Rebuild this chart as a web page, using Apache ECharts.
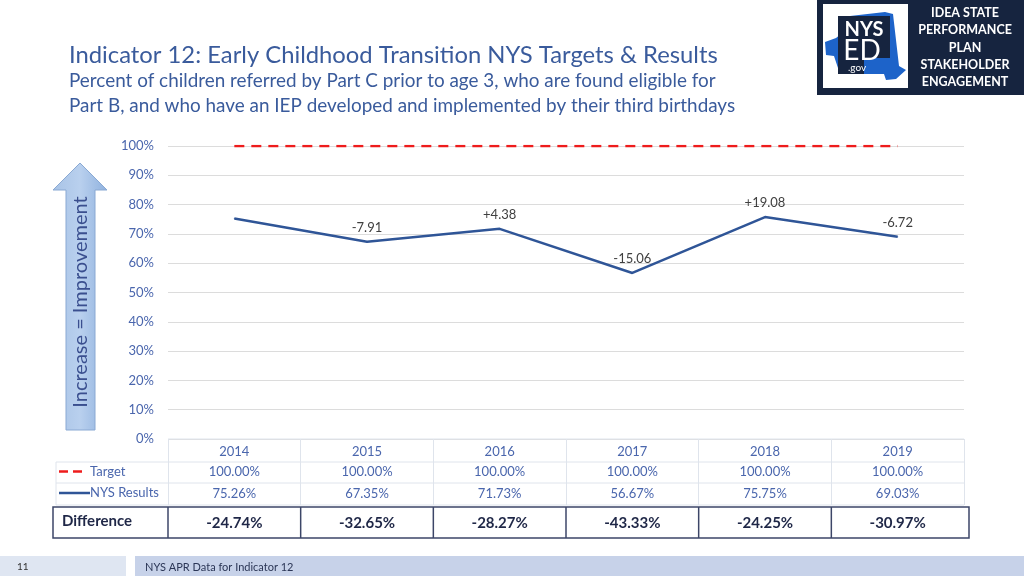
<!DOCTYPE html>
<html><head><meta charset="utf-8">
<script src="https://cdn.jsdelivr.net/npm/echarts@6/dist/echarts.min.js"></script>
<style>html,body{margin:0;padding:0;background:#fff}#c{width:1024px;height:576px}</style>
</head><body><div id="c"></div>
<script>
var years = ['2014','2015','2016','2017','2018','2019'];
var target = [100, 100, 100, 100, 100, 100];
var nysResults = [75.26, 67.35, 71.73, 56.67, 75.75, 69.03];
var changeLabels = ['', '-7.91', '+4.38', '-15.06', '+19.08', '-6.72'];
var differences = ['-24.74%', '-32.65%', '-28.27%', '-43.33%', '-24.25%', '-30.97%'];

var FONT = 'Lato, "Open Sans", sans-serif';
var BLUE_TXT = '#4a66ad';
var chart = echarts.init(document.getElementById('c'), null, {renderer: 'canvas'});

chart.setOption({
  animation: false,
  textStyle: {fontFamily: FONT},
  title: [{
    text: 'Indicator 12: Early Childhood Transition NYS Targets & Results',
    left: 64, top: 38,
    textStyle: {fontSize: 23.8, fontWeight: 'normal', color: '#3a5b9c', fontFamily: FONT}
  }, {
    text: 'Percent of children referred by Part C prior to age 3, who are found eligible for\nPart B, and who have an IEP developed and implemented by their third birthdays',
    left: 64, top: 63.5,
    textStyle: {fontSize: 18.9, fontWeight: 'normal', color: '#3a5b9c', lineHeight: 25, fontFamily: FONT}
  }],
  grid: {left: 168, right: 60, top: 146, bottom: 137},
  xAxis: {
    type: 'category', data: years, boundaryGap: true,
    axisLine: {show: false},
    axisTick: {show: true, length: 66, lineStyle: {color: '#dfe4ec'}},
    axisLabel: {margin: 6, color: BLUE_TXT, fontSize: 13, fontFamily: FONT}
  },
  yAxis: {
    type: 'value', min: 0, max: 100, interval: 10,
    axisLine: {show: false}, axisTick: {show: false},
    axisLabel: {formatter: '{value}%', color: BLUE_TXT, fontSize: 13, margin: 14, fontFamily: FONT},
    splitLine: {lineStyle: {color: '#dcdcdc', width: 1}}
  },
  series: [{
    name: 'Target', type: 'line', data: target, symbol: 'none',
    lineStyle: {color: '#ee1c1c', width: 2.5, type: [10, 7]}, z: 3
  }, {
    name: 'NYS Results', type: 'line', data: nysResults,
    symbol: 'circle', symbolSize: 1, showSymbol: true,
    itemStyle: {color: '#2f5597'},
    lineStyle: {color: '#2f5597', width: 2.5},
    label: {
      show: true, position: 'top', distance: 7,
      formatter: function (p) { return changeLabels[p.dataIndex]; },
      color: '#404040', fontSize: 13, fontFamily: FONT
    }
  }]
});

// build table + decorations from the axis scale
var cx = years.map(function (y) { return chart.convertToPixel({xAxisIndex: 0}, y); });
var bw = cx[1] - cx[0];
var left = cx[0] - bw / 2, right = cx[cx.length - 1] + bw / 2;
var g = [];
var rowT = 462, rowN = 483, rowE = 505;
[rowT, rowN, rowE].forEach(function (y) {
  g.push({type: 'line', shape: {x1: 56, y1: y, x2: right, y2: y}, style: {stroke: '#dfe4ec', lineWidth: 1}});
});
g.push({type: 'line', shape: {x1: 56, y1: rowT, x2: 56, y2: rowE}, style: {stroke: '#dfe4ec', lineWidth: 1}});
g.push({type: 'line', shape: {x1: left, y1: 439, x2: right, y2: 439}, style: {stroke: '#dfe4ec', lineWidth: 1}});
// legend keys
g.push({type: 'line', shape: {x1: 59, y1: 471.5, x2: 86, y2: 471.5}, style: {stroke: '#ee1c1c', lineWidth: 2.5, lineDash: [9, 5]}});
g.push({type: 'line', shape: {x1: 59, y1: 493, x2: 90, y2: 493}, style: {stroke: '#2f5597', lineWidth: 2.5}});
g.push({type: 'text', x: 90, y: 472, style: {text: 'Target', fill: BLUE_TXT, font: '13px ' + FONT, textVerticalAlign: 'middle'}});
g.push({type: 'text', x: 90, y: 493, style: {text: 'NYS Results', fill: BLUE_TXT, font: '13px ' + FONT, textVerticalAlign: 'middle'}});
cx.forEach(function (x, i) {
  g.push({type: 'text', x: x, y: 472, style: {text: target[i].toFixed(2) + '%', fill: BLUE_TXT, font: '13px ' + FONT, textAlign: 'center', textVerticalAlign: 'middle'}});
  g.push({type: 'text', x: x, y: 494, style: {text: nysResults[i].toFixed(2) + '%', fill: BLUE_TXT, font: '13px ' + FONT, textAlign: 'center', textVerticalAlign: 'middle'}});
  g.push({type: 'text', x: x, y: 523, style: {text: differences[i], fill: '#1f2747', font: 'bold 15px ' + FONT, textAlign: 'center', textVerticalAlign: 'middle'}});
});
g.push({type: 'rect', shape: {x: 53, y: 507, width: right + 5 - 53, height: 31}, style: {fill: 'none', stroke: '#3c4668', lineWidth: 1.5}});
for (var i = 0; i < cx.length; i++) {
  var bx = cx[i] - bw / 2;
  g.push({type: 'line', shape: {x1: bx, y1: 507, x2: bx, y2: 538}, style: {stroke: '#3c4668', lineWidth: 1.5}});
}
g.push({type: 'text', x: 62, y: 521, style: {text: 'Difference', fill: '#1f2747', font: 'bold 15px ' + FONT, textVerticalAlign: 'middle'}});

// arrow
g.push({type: 'polygon', shape: {points: [[80, 163], [107, 190], [95, 190], [95, 430], [66, 430], [66, 190], [53, 190]]},
  style: {fill: new echarts.graphic.LinearGradient(0, 0, 1, 0, [{offset: 0, color: '#a8c3e6'}, {offset: 0.5, color: '#b9d0ee'}, {offset: 1, color: '#8fb1de'}]), stroke: '#8aa9d3', lineWidth: 1}});
g.push({type: 'text', x: 81, y: 302, rotation: Math.PI / 2, style: {text: 'Increase = Improvement', fill: '#3a4f8f', font: '20px ' + FONT, textAlign: 'center', textVerticalAlign: 'middle'}});

// logo
g.push({type: 'rect', shape: {x: 817, y: 0, width: 207, height: 95}, style: {fill: '#16243f'}});
g.push({type: 'rect', shape: {x: 823, y: 4, width: 85, height: 84}, style: {fill: '#ffffff'}});
g.push({type: 'polygon', shape: {points: [[825, 42], [836, 38], [846, 30], [850, 16], [885, 12], [893, 14], [896, 40], [899, 66], [906, 70], [896, 79], [886, 80], [884, 74], [860, 74], [840, 74], [834, 56], [826, 55]]}, style: {fill: '#1d63c9'}});
g.push({type: 'rect', shape: {x: 838, y: 16, width: 52, height: 42}, style: {fill: '#16243f'}});
g.push({type: 'rect', shape: {x: 838, y: 58, width: 26, height: 16}, style: {fill: '#16243f'}});
g.push({type: 'text', x: 864, y: 30, style: {text: 'NYS', fill: '#fff', font: 'bold 20px ' + FONT, textAlign: 'center', textVerticalAlign: 'middle'}});
g.push({type: 'text', x: 862, y: 51, style: {text: 'ED', fill: '#fff', font: '28px ' + FONT, textAlign: 'center', textVerticalAlign: 'middle'}});
g.push({type: 'text', x: 857, y: 68, style: {text: '.gov', fill: '#fff', font: '10px ' + FONT, textAlign: 'center', textVerticalAlign: 'middle'}});
['IDEA STATE', 'PERFORMANCE', 'PLAN', 'STAKEHOLDER', 'ENGAGEMENT'].forEach(function (t, k) {
  g.push({type: 'text', x: 965, y: 13 + k * 17.3, style: {text: t, fill: '#fff', font: 'bold 12.5px ' + FONT, textAlign: 'center', textVerticalAlign: 'middle'}});
});

// footer
g.push({type: 'rect', shape: {x: 0, y: 556, width: 126, height: 20}, style: {fill: '#dfe6f2'}});
g.push({type: 'rect', shape: {x: 135, y: 556, width: 889, height: 20}, style: {fill: '#c7d2e9'}});
g.push({type: 'text', x: 17, y: 567, style: {text: '11', fill: '#333', font: '10px ' + FONT, textVerticalAlign: 'middle'}});
g.push({type: 'text', x: 145, y: 567, style: {text: 'NYS APR Data for Indicator 12', fill: '#2b3656', font: '11px ' + FONT, textVerticalAlign: 'middle'}});

chart.setOption({graphic: g});
</script></body></html>
